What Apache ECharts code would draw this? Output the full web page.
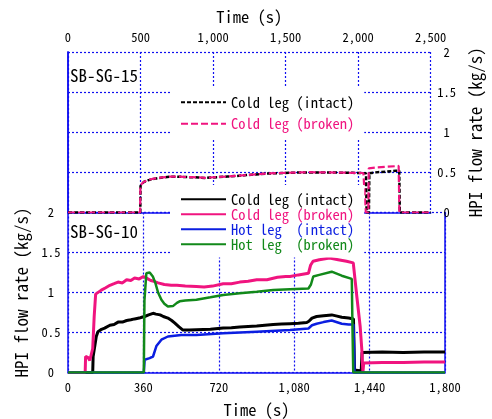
<!DOCTYPE html>
<html><head><meta charset="utf-8">
<script src="https://cdn.jsdelivr.net/npm/echarts@6/dist/echarts.min.js"></script>
<style>html,body{margin:0;padding:0;background:#fff}#c{width:492px;height:419px}</style>
</head><body><div id="c"></div>
<script>
// ---- data ----
const topTicks = [0, 500, 1000, 1500, 2000, 2500];
const bottomTicks = [0, 360, 720, 1080, 1440, 1800];
const flowTicks = [0, 0.5, 1, 1.5, 2];

// SB-SG-15 (top panel, time 0-2500 s)
const sg15ColdIntact = [[0,0],[498,0],[500,0.33],[510,0.35],[522,0.38],[550,0.40],[580,0.415],[610,0.425],[650,0.437],[698,0.445],[750,0.447],[800,0.442],[853,0.44],[900,0.436],[942,0.43],[980,0.436],[1030,0.44],[1100,0.448],[1163,0.455],[1230,0.466],[1295,0.475],[1370,0.485],[1450,0.49],[1550,0.496],[1660,0.50],[1760,0.50],[1881,0.496],[1960,0.494],[2036,0.49],[2054,0.49],[2058,0],[2074,0],[2077,0.49],[2120,0.50],[2200,0.51],[2260,0.52],[2283,0.52],[2287,0],[2500,0]];
const sg15ColdBroken = [[0,0],[497,0],[499,0.34],[510,0.36],[522,0.38],[550,0.405],[580,0.418],[610,0.427],[650,0.437],[698,0.446],[750,0.447],[800,0.443],[853,0.441],[900,0.437],[942,0.432],[980,0.436],[1030,0.442],[1100,0.449],[1163,0.457],[1230,0.467],[1295,0.476],[1370,0.486],[1450,0.492],[1550,0.497],[1660,0.502],[1760,0.50],[1881,0.497],[1960,0.495],[2036,0.492],[2048,0.49],[2052,0],[2070,0],[2073,0.55],[2120,0.56],[2200,0.57],[2279,0.58],[2284,0],[2500,0]];

// SB-SG-10 (bottom panel, time 0-1800 s)
const sg10ColdIntact = [[0,0],[118,0],[120,0.2],[128,0.22],[135,0.45],[143,0.51],[160,0.54],[175,0.555],[200,0.59],[220,0.6],[239,0.63],[260,0.63],[280,0.65],[300,0.66],[318,0.67],[340,0.68],[352,0.69],[366,0.70],[385,0.72],[406,0.74],[420,0.73],[440,0.72],[455,0.70],[477,0.68],[495,0.65],[509,0.62],[530,0.57],[549,0.53],[580,0.53],[613,0.535],[680,0.54],[741,0.555],[780,0.56],[820,0.57],[860,0.575],[901,0.58],[940,0.59],[980,0.6],[1020,0.605],[1060,0.61],[1100,0.615],[1140,0.625],[1150,0.64],[1165,0.68],[1187,0.70],[1220,0.71],[1259,0.72],[1285,0.705],[1307,0.69],[1340,0.68],[1363,0.67],[1366,0.3],[1368,0.03],[1400,0.02],[1404,0.25],[1410,0.255],[1500,0.255],[1600,0.25],[1700,0.255],[1800,0.255]];
const sg10ColdBroken = [[0,0],[82,0],[84,0.2],[95,0.19],[104,0.15],[112,0.14],[118,0.3],[125,0.7],[132,0.98],[140,1.0],[159,1.03],[180,1.06],[200,1.09],[220,1.11],[239,1.13],[260,1.12],[280,1.16],[300,1.15],[318,1.18],[340,1.17],[360,1.2],[375,1.18],[395,1.15],[410,1.14],[430,1.12],[460,1.10],[493,1.09],[520,1.09],[560,1.08],[613,1.075],[650,1.07],[690,1.08],[741,1.11],[780,1.11],[820,1.13],[860,1.14],[901,1.16],[950,1.16],[1000,1.19],[1040,1.2],[1060,1.2],[1100,1.22],[1148,1.24],[1158,1.34],[1170,1.39],[1200,1.41],[1249,1.43],[1290,1.41],[1330,1.39],[1362,1.37],[1368,1.35],[1379,0.95],[1395,0.575],[1403,0.28],[1408,0],[1410,0],[1412,0.12],[1500,0.125],[1600,0.125],[1700,0.13],[1800,0.13]];
const sg10HotIntact = [[0,0],[362,0],[366,0.16],[374,0.17],[390,0.18],[406,0.2],[422,0.33],[446,0.41],[477,0.45],[541,0.47],[613,0.47],[741,0.49],[901,0.51],[1060,0.53],[1148,0.55],[1165,0.59],[1187,0.61],[1220,0.63],[1259,0.65],[1307,0.61],[1340,0.60],[1363,0.6],[1366,0.3],[1368,0],[1800,0]];
const sg10HotBroken = [[0,0],[362,0],[365,0.9],[374,1.24],[390,1.25],[405,1.2],[417,1.12],[430,1.0],[446,0.91],[460,0.86],[477,0.825],[501,0.83],[520,0.87],[533,0.89],[560,0.9],[613,0.91],[680,0.94],[741,0.97],[820,0.99],[901,1.01],[980,1.03],[1060,1.04],[1148,1.05],[1160,1.1],[1171,1.2],[1200,1.22],[1259,1.26],[1307,1.21],[1355,1.17],[1358,0.6],[1362,0],[1800,0]];

const seriesNames = ['Cold leg (intact)', 'Cold leg (broken)', 'Hot leg  (intact)', 'Hot leg  (broken)'];
const panelLabels = ['SB-SG-15', 'SB-SG-10'];

// ---- style ----
const FONT = "'Noto Sans Mono CJK JP','DejaVu Sans Mono',monospace";
const BLUE = '#1010f0';
const C_BLACK = '#000000', C_PINK = '#f0147f', C_BLUE = '#0b1ee0', C_GREEN = '#12891a';
const grid = {color: BLUE, type: [2, 2], width: 1.2};
const fmt = v => v.toLocaleString('en-US');
const noSymbol = {color: 'transparent', borderColor: 'transparent', borderWidth: 0, opacity: 0};

const chart = echarts.init(document.getElementById('c'));
const frameAxis = (extra) => Object.assign({type: 'value', min: 0, max: 1, axisLine: {show: true, lineStyle: {color: BLUE, width: 1.5}}, axisLabel: {show: false}, axisTick: {show: false}, splitLine: {show: false}}, extra);
const tag = (p, n) => p + ' ' + n;
const strip = n => n.replace(/^SB-SG-\d+ /, '');

chart.setOption({
  animation: false,
  textStyle: {fontFamily: FONT},
  title: [
    {text: panelLabels[0], left: 70, top: 67, padding: 0, textStyle: {fontFamily: FONT, fontSize: 17, fontWeight: 'normal', color: '#000'}},
    {text: panelLabels[1], left: 70, top: 223, padding: 0, textStyle: {fontFamily: FONT, fontSize: 17, fontWeight: 'normal', color: '#000'}}
  ],
  grid: [
    {left: 68, right: 47, top: 52, height: 160.5},
    {left: 68, right: 47, top: 212.5, height: 160.5}
  ],
  xAxis: [
    {gridIndex: 0, type: 'value', position: 'top', min: topTicks[0], max: topTicks[topTicks.length - 1], interval: topTicks[1] - topTicks[0],
     name: 'Time (s)', nameLocation: 'middle', nameGap: 27, nameTextStyle: {fontFamily: FONT, fontSize: 16.5, color: '#000'},
     axisLine: {show: true, lineStyle: {color: BLUE, width: 1.5}}, axisTick: {show: false},
     axisLabel: {formatter: fmt, fontFamily: FONT, fontSize: 12.5, color: '#000', margin: 8},
     splitLine: {show: true, lineStyle: grid}},
    {gridIndex: 1, type: 'value', position: 'bottom', min: bottomTicks[0], max: bottomTicks[bottomTicks.length - 1], interval: bottomTicks[1] - bottomTicks[0],
     name: 'Time (s)', nameLocation: 'middle', nameGap: 29, nameTextStyle: {fontFamily: FONT, fontSize: 16.5, color: '#000'},
     axisLine: {show: true, lineStyle: {color: BLUE, width: 1.5}}, axisTick: {show: false},
     axisLabel: {formatter: fmt, fontFamily: FONT, fontSize: 12.5, color: '#000', margin: 8},
     splitLine: {show: true, lineStyle: grid}}
  ],
  yAxis: [
    {gridIndex: 0, type: 'value', position: 'right', min: flowTicks[0], max: flowTicks[flowTicks.length - 1], interval: flowTicks[1] - flowTicks[0],
     name: 'HPI flow rate (kg/s)', nameLocation: 'middle', nameRotate: 90, nameGap: 32, nameTextStyle: {fontFamily: FONT, fontSize: 17, color: '#000'},
     axisLine: {show: true, lineStyle: {color: BLUE, width: 1.5}}, axisTick: {show: false},
     axisLabel: {fontFamily: FONT, fontSize: 12.5, color: '#000', align: 'center', margin: 16},
     splitLine: {show: true, lineStyle: grid}},
    frameAxis({gridIndex: 0, position: 'left'}),
    {gridIndex: 1, type: 'value', position: 'left', min: flowTicks[0], max: flowTicks[flowTicks.length - 1], interval: flowTicks[1] - flowTicks[0],
     name: 'HPI flow rate (kg/s)', nameLocation: 'middle', nameRotate: 90, nameGap: 38, nameTextStyle: {fontFamily: FONT, fontSize: 17, color: '#000'},
     axisLine: {show: true, lineStyle: {color: BLUE, width: 1.5}}, axisTick: {show: false},
     axisLabel: {fontFamily: FONT, fontSize: 12.5, color: '#000', align: 'center', margin: 17},
     splitLine: {show: true, lineStyle: grid}},
    frameAxis({gridIndex: 1, position: 'right'})
  ],
  legend: [
    {left: 170, top: 87, width: 200, orient: 'vertical', padding: [8, 10, 8, 10], itemGap: 7, itemWidth: 45, itemHeight: 14,
     backgroundColor: '#fff', selectedMode: false, formatter: strip, itemStyle: noSymbol,
     textStyle: {fontFamily: FONT, fontSize: 14.5},
     data: [{name: tag(panelLabels[0], seriesNames[0]), textStyle: {color: C_BLACK}},
            {name: tag(panelLabels[0], seriesNames[1]), textStyle: {color: C_PINK}}]},
    {left: 170, top: 185, orient: 'vertical', padding: [7, 10, 6, 10], itemGap: 0.5, itemWidth: 45, itemHeight: 13,
     backgroundColor: '#fff', selectedMode: false, formatter: strip, itemStyle: noSymbol,
     textStyle: {fontFamily: FONT, fontSize: 14.5, lineHeight: 13},
     data: [{name: tag(panelLabels[1], seriesNames[0]), textStyle: {color: C_BLACK}},
            {name: tag(panelLabels[1], seriesNames[1]), textStyle: {color: C_PINK}},
            {name: tag(panelLabels[1], seriesNames[2]), textStyle: {color: C_BLUE}},
            {name: tag(panelLabels[1], seriesNames[3]), textStyle: {color: C_GREEN}}]}
  ],
  series: [
    {name: tag(panelLabels[0], seriesNames[0]), type: 'line', xAxisIndex: 0, yAxisIndex: 0, data: sg15ColdIntact, symbol: 'none',
     lineStyle: {color: C_BLACK, width: 2.5, type: [4, 2]}, itemStyle: {color: C_BLACK}},
    {name: tag(panelLabels[0], seriesNames[1]), type: 'line', xAxisIndex: 0, yAxisIndex: 0, data: sg15ColdBroken, symbol: 'none',
     lineStyle: {color: C_PINK, width: 2.2, type: [7, 3]}, itemStyle: {color: C_PINK}},
    {name: tag(panelLabels[1], seriesNames[0]), type: 'line', xAxisIndex: 1, yAxisIndex: 2, data: sg10ColdIntact, symbol: 'none',
     lineStyle: {color: C_BLACK, width: 3}, itemStyle: {color: C_BLACK}},
    {name: tag(panelLabels[1], seriesNames[1]), type: 'line', xAxisIndex: 1, yAxisIndex: 2, data: sg10ColdBroken, symbol: 'none',
     lineStyle: {color: C_PINK, width: 3}, itemStyle: {color: C_PINK}},
    {name: tag(panelLabels[1], seriesNames[2]), type: 'line', xAxisIndex: 1, yAxisIndex: 2, data: sg10HotIntact, symbol: 'none',
     lineStyle: {color: C_BLUE, width: 2.5}, itemStyle: {color: C_BLUE}},
    {name: tag(panelLabels[1], seriesNames[3]), type: 'line', xAxisIndex: 1, yAxisIndex: 2, data: sg10HotBroken, symbol: 'none',
     lineStyle: {color: C_GREEN, width: 2.5}, itemStyle: {color: C_GREEN}}
  ]
});
</script></body></html>
